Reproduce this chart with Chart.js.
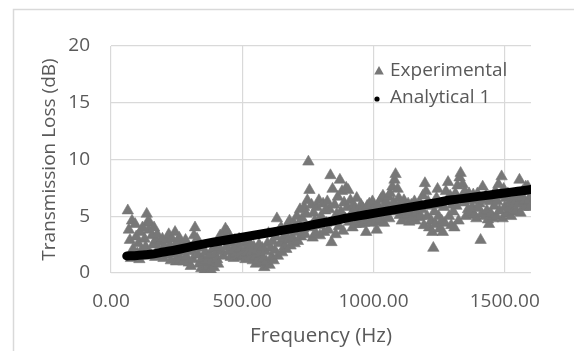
<!DOCTYPE html>
<html><head><meta charset="utf-8">
<script src="https://cdn.jsdelivr.net/npm/chart.js@4.4.1/dist/chart.umd.min.js"></script>
<style>html,body{margin:0;padding:0;background:#fff}#wrap{width:574px;height:351px;position:relative}</style>
</head><body><div id="wrap"><canvas id="c" width="574" height="351"></canvas></div>
<script>
// ---- data ----
const seriesNames = ['Experimental', 'Analytical 1'];
const xTitle = 'Frequency (Hz)';
const yTitle = 'Transmission Loss (dB)';
const xTicks = [0, 500, 1000, 1500];
const yTicks = [0, 5, 10, 15, 20];

const expFreq = [
  64,68,72,76,80,84,88,92,96,100,
  104,108,112,116,120,124,128,132,136,140,
  144,148,152,156,160,164,168,172,176,180,
  184,188,192,196,200,204,208,212,216,220,
  224,228,232,236,240,244,248,252,256,260,
  264,268,272,276,280,284,288,292,296,300,
  304,308,312,316,320,324,328,332,336,340,
  344,348,352,356,360,364,368,372,376,380,
  384,388,392,396,400,404,408,412,416,420,
  424,428,432,436,440,444,448,452,456,460,
  464,468,472,476,480,484,488,492,496,500,
  504,508,512,516,520,524,528,532,536,540,
  544,548,552,556,560,564,568,572,576,580,
  584,588,592,596,600,604,608,612,616,620,
  624,628,632,636,640,644,648,652,656,660,
  664,668,672,676,680,684,688,692,696,700,
  704,708,712,716,720,724,728,732,736,740,
  744,748,752,756,760,764,768,772,776,780,
  784,788,792,796,800,804,808,812,816,820,
  824,828,832,836,840,844,848,852,856,860,
  864,868,872,876,880,884,888,892,896,900,
  904,908,912,916,920,924,928,932,936,940,
  944,948,952,956,960,964,968,972,976,980,
  984,988,992,996,1000,1004,1008,1012,1016,1020,
  1024,1028,1032,1036,1040,1044,1048,1052,1056,1060,
  1064,1068,1072,1076,1080,1084,1088,1092,1096,1100,
  1104,1108,1112,1116,1120,1124,1128,1132,1136,1140,
  1144,1148,1152,1156,1160,1164,1168,1172,1176,1180,
  1184,1188,1192,1196,1200,1204,1208,1212,1216,1220,
  1224,1228,1232,1236,1240,1244,1248,1252,1256,1260,
  1264,1268,1272,1276,1280,1284,1288,1292,1296,1300,
  1304,1308,1312,1316,1320,1324,1328,1332,1336,1340,
  1344,1348,1352,1356,1360,1364,1368,1372,1376,1380,
  1384,1388,1392,1396,1400,1404,1408,1412,1416,1420,
  1424,1428,1432,1436,1440,1444,1448,1452,1456,1460,
  1464,1468,1472,1476,1480,1484,1488,1492,1496,1500,
  1504,1508,1512,1516,1520,1524,1528,1532,1536,1540,
  1544,1548,1552,1556,1560,1564,1568,1572,1576,1580,
  1584,1588,1592,1596,1600
];
const expTL = [
  5.5,3.8,2.9,1.3,4.6,2.1,1.4,4.3,3.2,1.7,
  2.6,1.2,3.6,2.0,4.0,1.5,3.0,2.3,5.2,4.5,
  3.8,4.4,1.6,3.3,2.5,4.0,1.4,2.9,3.4,2.1,
  1.5,2.7,1.9,3.0,1.3,2.3,1.6,2.9,2.0,3.4,
  2.4,1.1,3.0,1.7,2.2,3.6,1.0,2.7,1.5,3.1,
  1.2,2.5,1.8,1.0,2.2,2.9,1.4,2.4,0.9,1.9,
  0.6,2.0,1.2,3.3,4.0,2.6,3.0,1.6,0.8,2.2,
  0.4,1.3,0.1,0.9,1.8,0.2,1.1,0.6,1.6,0.3,
  1.0,2.1,0.5,1.6,2.5,1.2,0.8,2.2,3.3,1.9,
  2.8,1.5,3.4,3.9,2.3,3.6,1.9,3.0,1.4,2.6,
  2.0,1.3,2.9,1.7,2.4,1.4,3.0,2.1,1.6,2.7,
  1.5,2.6,1.2,2.2,1.8,2.8,1.3,2.4,1.9,1.1,
  2.3,1.4,0.8,2.0,1.1,2.5,1.7,0.9,2.2,1.3,
  0.5,1.9,1.0,2.6,3.5,0.7,2.2,1.4,2.8,1.1,
  2.0,3.2,4.8,1.5,3.7,2.6,4.0,1.8,3.0,2.3,
  3.4,2.1,4.2,2.9,4.6,2.4,3.7,3.1,4.4,2.6,
  3.6,5.0,2.8,4.3,5.6,3.2,4.8,3.9,5.8,3.4,
  5.2,6.4,9.8,7.3,4.0,6.0,3.1,5.3,4.6,3.5,
  5.8,4.2,6.4,3.3,5.0,4.6,6.1,3.6,5.5,4.4,
  6.3,3.8,5.6,8.6,2.7,7.4,4.5,6.0,3.4,5.2,
  6.7,4.1,8.2,5.4,7.2,3.7,6.2,4.8,7.5,5.8,
  7.3,4.5,6.4,5.2,4.0,6.0,5.6,4.3,6.6,4.9,
  5.4,4.3,6.0,4.8,5.7,4.4,5.1,3.6,5.9,4.6,
  6.1,4.4,5.5,6.3,4.9,5.8,4.5,3.8,6.0,5.2,
  4.7,6.5,5.4,6.8,4.4,5.9,6.3,5.0,6.7,4.8,
  7.0,5.4,7.6,6.2,8.2,8.7,5.8,7.4,6.6,5.1,
  6.2,4.6,5.5,6.4,4.9,5.8,5.1,6.1,4.5,5.4,
  6.0,4.8,5.6,6.3,4.6,5.3,5.9,4.9,6.2,5.0,
  5.6,6.8,4.2,7.9,7.2,5.0,6.3,4.0,5.9,4.6,
  3.6,2.2,5.4,4.3,6.6,7.4,5.0,3.9,6.0,4.6,
  3.6,5.8,4.4,7.2,6.4,8.0,5.0,6.8,4.2,6.0,
  5.4,4.0,7.0,5.9,7.7,4.6,8.4,8.8,6.6,7.8,
  6.2,7.2,5.0,6.7,5.6,7.0,5.3,6.4,5.8,6.9,
  5.1,6.5,4.8,7.0,5.7,6.1,2.9,5.2,7.6,6.4,
  5.0,6.8,5.5,4.7,4.3,6.3,5.2,6.6,4.8,5.9,
  7.2,5.0,6.3,7.8,5.5,6.8,8.5,4.8,7.4,5.8,
  6.6,5.2,7.0,5.7,6.3,5.0,6.9,5.4,6.1,6.7,
  5.5,7.0,6.1,8.2,5.3,6.6,7.2,5.8,6.4,7.6,
  6.0,7.6,6.4,5.8,6.8
];
const anaFreq = [60,100,150,200,250,300,350,400,450,500,550,600,650,700,750,800,850,900,950,1000,1050,1100,1150,1200,1250,1300,1350,1400,1450,1500,1550,1600];
const anaTL   = [1.5,1.55,1.65,1.85,2.05,2.3,2.55,2.75,2.95,3.15,3.35,3.55,3.75,3.95,4.15,4.4,4.6,4.85,5.05,5.25,5.45,5.65,5.85,6.05,6.25,6.45,6.6,6.75,6.9,7.05,7.2,7.35];

// ---- styling ----
const FONT = '"Open Sans", "Liberation Sans", sans-serif';
const TXT = '#595959';
const GRID = '#d9d9d9';
const EXP_COLOR = '#777777';

const borderPlugin = {
  id: 'outerBorder',
  beforeDraw(chart) {
    const ctx = chart.ctx;
    ctx.save();
    ctx.strokeStyle = GRID;
    ctx.lineWidth = 1.5;
    ctx.beginPath();
    ctx.moveTo(13.5, 351);
    ctx.lineTo(13.5, 9.5);
    ctx.lineTo(574, 9.5);
    ctx.stroke();
    ctx.restore();
  }
};

const legendPlugin = {
  id: 'insideLegend',
  afterDatasetsDraw(chart) {
    const ctx = chart.ctx;
    ctx.save();
    ctx.font = '19px ' + FONT;
    ctx.textBaseline = 'middle';
    ctx.textAlign = 'left';
    const tx = 379, ty = 71;
    ctx.fillStyle = EXP_COLOR;
    ctx.beginPath();
    ctx.moveTo(tx, ty - 5);
    ctx.lineTo(tx + 4.8, ty + 3.5);
    ctx.lineTo(tx - 4.8, ty + 3.5);
    ctx.closePath();
    ctx.fill();
    ctx.fillStyle = TXT;
    ctx.fillText(chart.data.datasets[1].label, 390, 71);
    ctx.fillStyle = '#000';
    ctx.beginPath();
    ctx.arc(377, 99, 2.6, 0, Math.PI * 2);
    ctx.fill();
    ctx.fillStyle = TXT;
    ctx.fillText(chart.data.datasets[0].label, 390, 98);
    ctx.restore();
  }
};

const expPoints = expFreq.map((f, i) => ({x: f, y: expTL[i]}));
const anaPoints = anaFreq.map((f, i) => ({x: f, y: anaTL[i]}));

new Chart(document.getElementById('c'), {
  type: 'scatter',
  data: {
    datasets: [
      {
        label: seriesNames[1],
        data: anaPoints,
        showLine: true,
        borderColor: '#000',
        backgroundColor: '#000',
        borderWidth: 9,
        borderCapStyle: 'round',
        pointRadius: 0,
        cubicInterpolationMode: 'monotone',
        order: 0
      },
      {
        label: seriesNames[0],
        data: expPoints,
        pointStyle: 'triangle',
        pointRadius: 6.6,
        pointBorderWidth: 0.6,
        backgroundColor: EXP_COLOR,
        borderColor: EXP_COLOR,
        order: 1
      }
    ]
  },
  options: {
    responsive: false,
    animation: false,
    devicePixelRatio: 1,
    layout: {padding: {left: 0, right: 43, top: 46, bottom: 0}},
    plugins: {legend: {display: false}, tooltip: {enabled: false}},
    scales: {
      x: {
        type: 'linear', min: 0, max: 1600,
        afterBuildTicks: s => { s.ticks = xTicks.map(v => ({value: v})); },
        afterFit: s => { s.height = 78; },
        border: {display: false},
        grid: {color: GRID, lineWidth: 1.2, drawTicks: false},
        ticks: {color: TXT, font: {family: FONT, size: 19}, padding: 17, maxRotation: 0,
                callback: v => Number(v).toFixed(2)},
        title: {display: true, text: xTitle, color: TXT, font: {family: FONT, size: 20.5}, padding: {top: 0, bottom: 3}}
      },
      y: {
        type: 'linear', min: 0, max: 20,
        afterBuildTicks: s => { s.ticks = yTicks.map(v => ({value: v})); },
        afterFit: s => { s.width = 111; },
        border: {display: false},
        grid: {color: GRID, lineWidth: 1.2, drawTicks: false},
        ticks: {color: TXT, font: {family: FONT, size: 19}, padding: 21},
        title: {display: true, text: yTitle, color: TXT, font: {family: FONT, size: 19}, padding: {top: 38, bottom: 0}}
      }
    }
  },
  plugins: [borderPlugin, legendPlugin]
});
</script>
</body></html>
